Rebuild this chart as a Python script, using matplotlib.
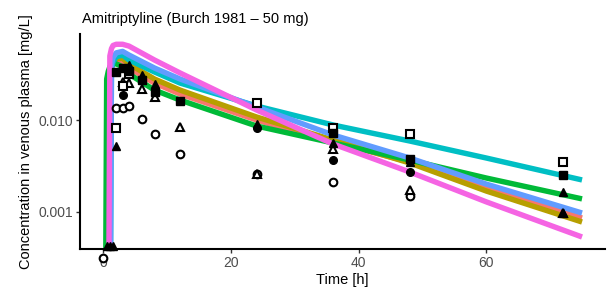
import matplotlib
matplotlib.use("Agg")
import matplotlib.pyplot as plt
from matplotlib.ticker import FixedLocator, NullLocator

plt.rcParams['font.family'] = ['Liberation Sans', 'DejaVu Sans']

# ---- simulated curves (time grid shared) ----
sim_time = [0, 0.25, 0.5, 0.75, 1.0, 1.25, 1.5, 2, 3, 4, 8, 12, 24, 36, 48, 60, 75]
Z = 1e-5
sim_salmon = [Z, Z, Z, Z, 0.032, 0.038, 0.041, 0.044, 0.042, 0.0369, 0.0253, 0.0192, 0.0100, 0.00575, 0.00348, 0.00181, 0.000854]
sim_olive  = [Z, Z, Z, Z, 0.033, 0.040, 0.044, 0.047, 0.047, 0.0408, 0.0280, 0.0212, 0.01078, 0.00605, 0.00340, 0.00168, 0.000772]
sim_green  = [Z, Z, 0.028, 0.034, 0.038, 0.040, 0.041, 0.041, 0.038, 0.0317, 0.0212, 0.0165, 0.00860, 0.00561, 0.00366, 0.00233, 0.00138]
sim_cyan   = [Z, Z, Z, Z, Z, 0.036, 0.043, 0.049, 0.0511, 0.0451, 0.0334, 0.0253, 0.01421, 0.00882, 0.00590, 0.00385, 0.00222]
sim_blue   = [Z, Z, Z, Z, Z, 0.040, 0.048, 0.054, 0.056, 0.0511, 0.0369, 0.0280, 0.01386, 0.00686, 0.00385, 0.00200, 0.000968]
sim_pink   = [Z, Z, Z, Z, 0.050, 0.060, 0.065, 0.067, 0.067, 0.064, 0.0451, 0.0326, 0.01286, 0.00547, 0.00271, 0.00128, 0.00053]
sim_series = [sim_salmon, sim_olive, sim_green, sim_cyan, sim_blue, sim_pink]
sim_colors = ['#F8766D', '#B79F00', '#00BA38', '#00BFC4', '#619CFF', '#F564E3']

# ---- observed data ----
oc_t = [0, 2, 3, 4, 6, 8, 12, 24, 36, 48]
oc_v = [0.00031, 0.0134, 0.0134, 0.0142, 0.0102, 0.0070, 0.0043, 0.0026, 0.0021, 0.00148]
fc_t = [3, 24, 36, 48]
fc_v = [0.0187, 0.0082, 0.00367, 0.00273]
ot_t = [3, 4, 6, 8, 12, 24, 36, 48, 72]
ot_v = [0.026, 0.0255, 0.022, 0.018, 0.0084, 0.0026, 0.0048, 0.00173, 0.00096]
ft_t = [0.5, 1, 1.5, 2, 4, 6, 8, 24, 36, 48, 72, 72]
ft_v = [0.00042, 0.00042, 0.00042, 0.0052, 0.040, 0.031, 0.025, 0.0090, 0.0056, 0.0035, 0.00162, 0.00096]
os_t = [2, 3, 4, 24, 36, 48, 72]
os_v = [0.0082, 0.0235, 0.0317, 0.0155, 0.0082, 0.0070, 0.00345]
fs_t = [2, 3, 4, 6, 8, 12, 36, 48, 72]
fs_v = [0.0337, 0.037, 0.034, 0.0273, 0.0204, 0.0162, 0.0073, 0.0038, 0.0025]

x_ticks = [0, 20, 40, 60]
y_ticks = [0.001, 0.010]
y_tick_labels = ['0.001', '0.010']

title = 'Amitriptyline (Burch 1981 \u2013 50 mg)'
xlabel = 'Time [h]'
ylabel = 'Concentration in venous plasma [mg/L]'

fig = plt.figure(figsize=(6.13, 2.93), dpi=100)
ax = fig.add_axes([80/613, 44/293, 525/613, 215/293])

for vals, col in zip(sim_series, sim_colors):
    ax.plot(sim_time, vals, color=col, lw=3.9, solid_capstyle='butt', solid_joinstyle='round', zorder=2)

mk = dict(color='black', ms=5.5, ls='none', zorder=3, clip_on=False)
ax.plot(oc_t, oc_v, marker='o', mfc='white', mec='black', mew=1.5, **mk)
ax.plot(fc_t, fc_v, marker='o', mfc='black', mec='black', **mk)
ax.plot(ot_t, ot_v, marker='^', mfc='white', mec='black', mew=1.5, **mk)
ax.plot(ft_t, ft_v, marker='^', mfc='black', mec='black', **mk)
ax.plot(os_t, os_v, marker='s', mfc='white', mec='black', mew=1.5, **mk)
ax.plot(fs_t, fs_v, marker='s', mfc='black', mec='black', **mk)

ax.set_yscale('log')
ax.set_xlim(-3.68, 78.6)
ax.set_ylim(0.000392, 0.0867)
ax.xaxis.set_major_locator(FixedLocator(x_ticks))
ax.yaxis.set_major_locator(FixedLocator(y_ticks))
ax.yaxis.set_minor_locator(NullLocator())
ax.set_yticklabels(y_tick_labels)

for s in ['top', 'right']:
    ax.spines[s].set_visible(False)
for s in ['left', 'bottom']:
    ax.spines[s].set_linewidth(1.5)
    ax.spines[s].set_color('black')
ax.tick_params(axis='both', which='major', length=3, width=1.0, color='#333333',
               labelcolor='#4D4D4D', labelsize=10, pad=2)

ax.set_xlabel(xlabel, fontsize=10.5, color='black', labelpad=2)
ax.set_ylabel(ylabel, fontsize=10.5, color='black', labelpad=4)
fig.text(82/613, 1 - 23/293, title, fontsize=10.5, color='black', ha='left', va='baseline')

fig.savefig('out.png', dpi=100)
